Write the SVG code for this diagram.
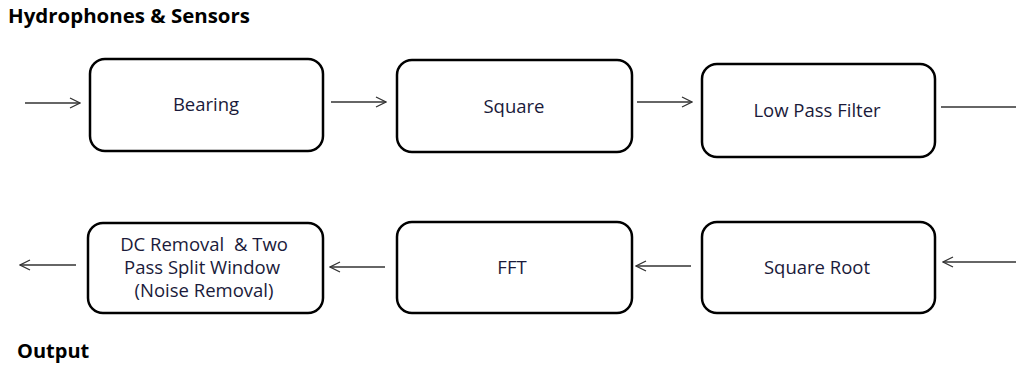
<svg xmlns="http://www.w3.org/2000/svg" width="1016" height="368" viewBox="0 0 1016 368">
  <style>
    .box { fill: #ffffff; stroke: #000000; stroke-width: 2.5; }
    .lbl { font-family: "Open Sans", "Liberation Sans", sans-serif; font-size: 18.5px; fill: #1a1a3a; text-anchor: middle; }
    .ttl { font-family: "Open Sans", "Liberation Sans", sans-serif; font-size: 20px; font-weight: bold; fill: #000000; }
    .wire { stroke: #333333; stroke-width: 1.3; fill: none; }
  </style>
  <defs>
    <marker id="head" viewBox="0 0 12 12" refX="11" refY="6" markerWidth="12" markerHeight="12" markerUnits="userSpaceOnUse" orient="auto">
      <path d="M1,1 L11,6 L1,11" fill="none" stroke="#333333" stroke-width="1.3"/>
    </marker>
  </defs>

  <rect width="1016" height="368" fill="#ffffff"/>

  <text class="ttl" x="8" y="23" textLength="242" lengthAdjust="spacingAndGlyphs">Hydrophones &amp; Sensors</text>
  <text class="ttl" x="17" y="358">Output</text>

  <g id="connectors">
    <line class="wire" x1="25" y1="103" x2="80" y2="103" marker-end="url(#head)"/>
    <line class="wire" x1="331" y1="102" x2="386" y2="102" marker-end="url(#head)"/>
    <line class="wire" x1="637" y1="102" x2="692" y2="102" marker-end="url(#head)"/>
    <line class="wire" x1="941" y1="107" x2="1016" y2="107"/>
    <line class="wire" x1="1016" y1="262" x2="943" y2="262" marker-end="url(#head)"/>
    <line class="wire" x1="691" y1="266" x2="636" y2="266" marker-end="url(#head)"/>
    <line class="wire" x1="385" y1="267" x2="330" y2="267" marker-end="url(#head)"/>
    <line class="wire" x1="76" y1="265" x2="20" y2="265" marker-end="url(#head)"/>
  </g>

  <g id="bearing">
    <rect class="box" x="90" y="59" width="233" height="92" rx="15"/>
    <text class="lbl" x="206" y="111">Bearing</text>
  </g>
  <g id="square">
    <rect class="box" x="397" y="60" width="235" height="92" rx="15"/>
    <text class="lbl" x="514" y="113">Square</text>
  </g>
  <g id="low-pass-filter">
    <rect class="box" x="702" y="64" width="233" height="93" rx="15"/>
    <text class="lbl" x="817" y="117">Low Pass Filter</text>
  </g>
  <g id="square-root">
    <rect class="box" x="702" y="222" width="233" height="91" rx="15"/>
    <text class="lbl" x="817" y="274">Square Root</text>
  </g>
  <g id="fft">
    <rect class="box" x="397" y="222" width="235" height="91" rx="15"/>
    <text class="lbl" x="512" y="274">FFT</text>
  </g>
  <g id="dc-removal">
    <rect class="box" x="88" y="223" width="235" height="90" rx="15"/>
    <text class="lbl" x="204" y="251" xml:space="preserve">DC Removal  &amp; Two</text>
    <text class="lbl" x="202" y="274">Pass Split Window</text>
    <text class="lbl" x="204" y="297">(Noise Removal)</text>
  </g>
</svg>
